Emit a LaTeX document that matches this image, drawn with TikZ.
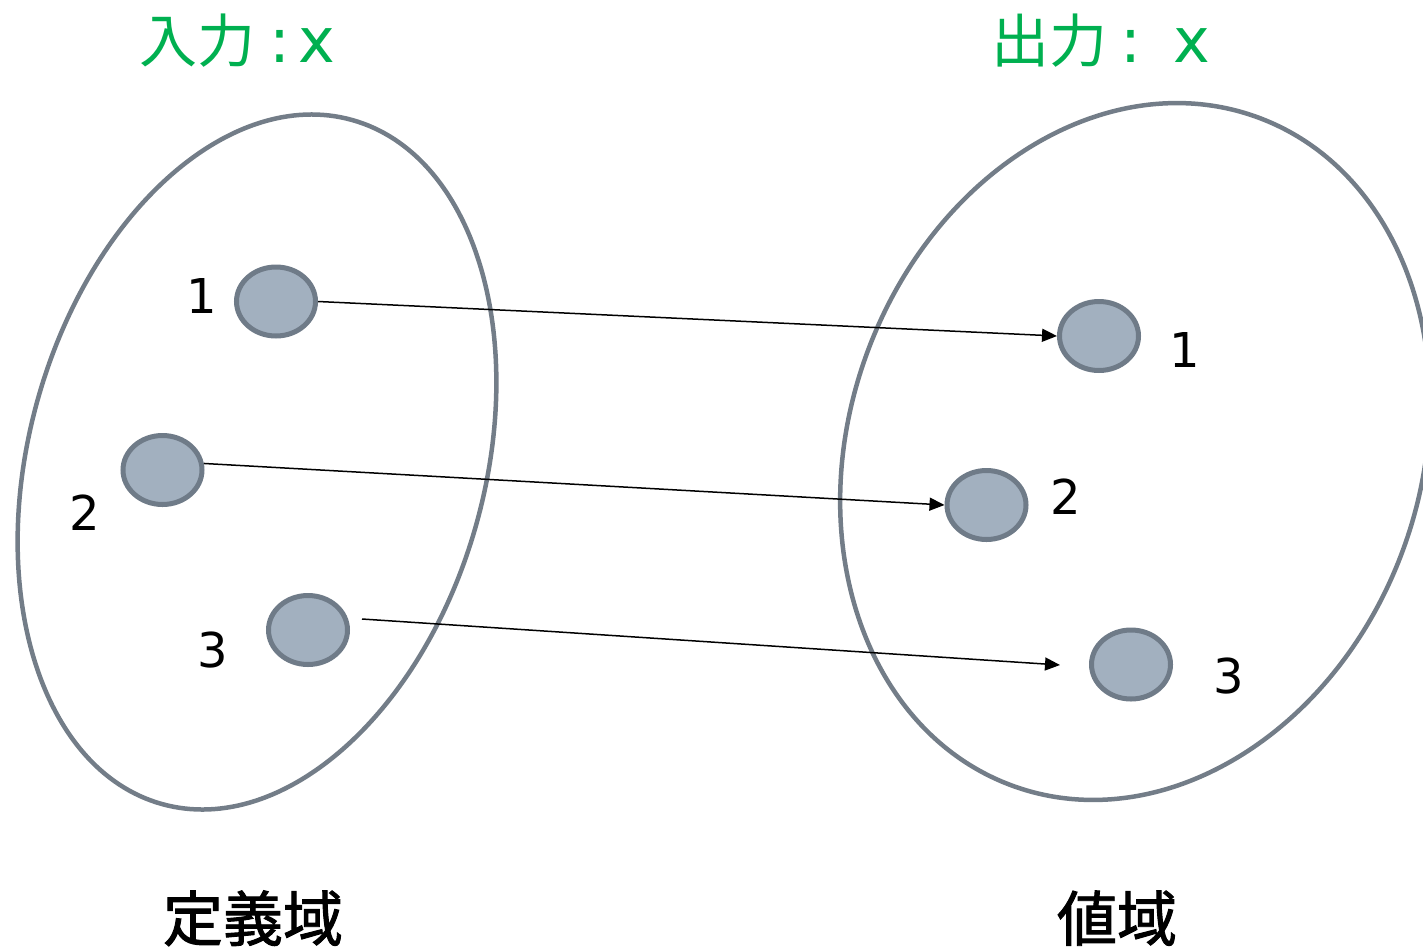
\documentclass[tikz,border=0pt]{standalone}
\usepackage{fontspec}
\setmainfont{DejaVu Sans}
\newfontfamily\cjk{Noto Sans CJK JP}
\newfontfamily\cjkb[FakeBold=1.6]{Noto Sans CJK JP}
\usetikzlibrary{arrows.meta,shapes.geometric}
\definecolor{setline}{HTML}{737D88}
\definecolor{dotfill}{HTML}{A2B0BF}
\definecolor{dotline}{HTML}{6F7B88}
\definecolor{titlegreen}{HTML}{00B050}
\newcommand{\latinpart}[1]{{\fontsize{62bp}{70bp}\selectfont #1}}
\tikzset{
  setellipse/.style={draw=setline, line width=4.5bp},
  dotnode/.style={ellipse, draw=dotline, fill=dotfill, line width=5bp, minimum width=79bp, minimum height=69bp, inner sep=0pt},
  numlabel/.style={inner sep=0pt, font=\fontsize{48bp}{58bp}\selectfont},
  titletext/.style={inner sep=0pt, text=titlegreen, font=\fontsize{58bp}{70bp}\selectfont},
  setname/.style={inner sep=0pt, font=\fontsize{60bp}{72bp}\selectfont\cjkb},
  maparrow/.style={line width=1.5bp, -{Triangle[length=15bp,width=13bp]}}
}
\begin{document}
\begin{tikzpicture}[x=1bp,y=-1bp]
\useasboundingbox (0,0) rectangle (1423,949);
\clip (0,0) rectangle (1423,949);
% sets
\draw[setellipse, shift={(257,462)}, rotate=-15.5] (0,0) ellipse [x radius=228bp, y radius=355bp];
\draw[setellipse, shift={(1135,451.5)}, rotate=-20.2] (0,0) ellipse [x radius=285.5bp, y radius=356bp];
% titles
\node[titletext, anchor=base west] (tin) at (139,62) {{\cjk 入力}\hspace{14bp}\latinpart{:\hspace{8bp}x}};
\node[titletext, anchor=base west] (tout) at (991,62) {{\cjk 出力}\hspace{13bp}\latinpart{:\hspace{32bp}x}};
\node[setname, anchor=base] (dom) at (253,941) {定義域};
\node[setname, anchor=base] (ran) at (1117,941) {値域};
% dots
\node[dotnode] (l1) at (276,301.5) {};
\node[dotnode] (l2) at (162.5,470) {};
\node[dotnode] (l3) at (308,630) {};
\node[dotnode] (r1) at (1099,336) {};
\node[dotnode] (r2) at (986.5,505) {};
\node[dotnode] (r3) at (1131,664.5) {};
% labels
\node[numlabel] (n1) at (202,296) {1};
\node[numlabel] (n2) at (85,513) {2};
\node[numlabel] (n3) at (213,650) {3};
\node[numlabel] (m1) at (1185,350) {1};
\node[numlabel] (m2) at (1065.5,496.5) {2};
\node[numlabel] (m3) at (1228.5,676) {3};
% arrows
\coordinate (a3s) at (362,619);
\coordinate (a3e) at (1060,665);
\draw[maparrow] (l1.east) -- (r1.west);
\draw[maparrow] (l2.9) -- (r2.west);
\draw[maparrow] (a3s) -- (a3e);
\end{tikzpicture}
\end{document}
